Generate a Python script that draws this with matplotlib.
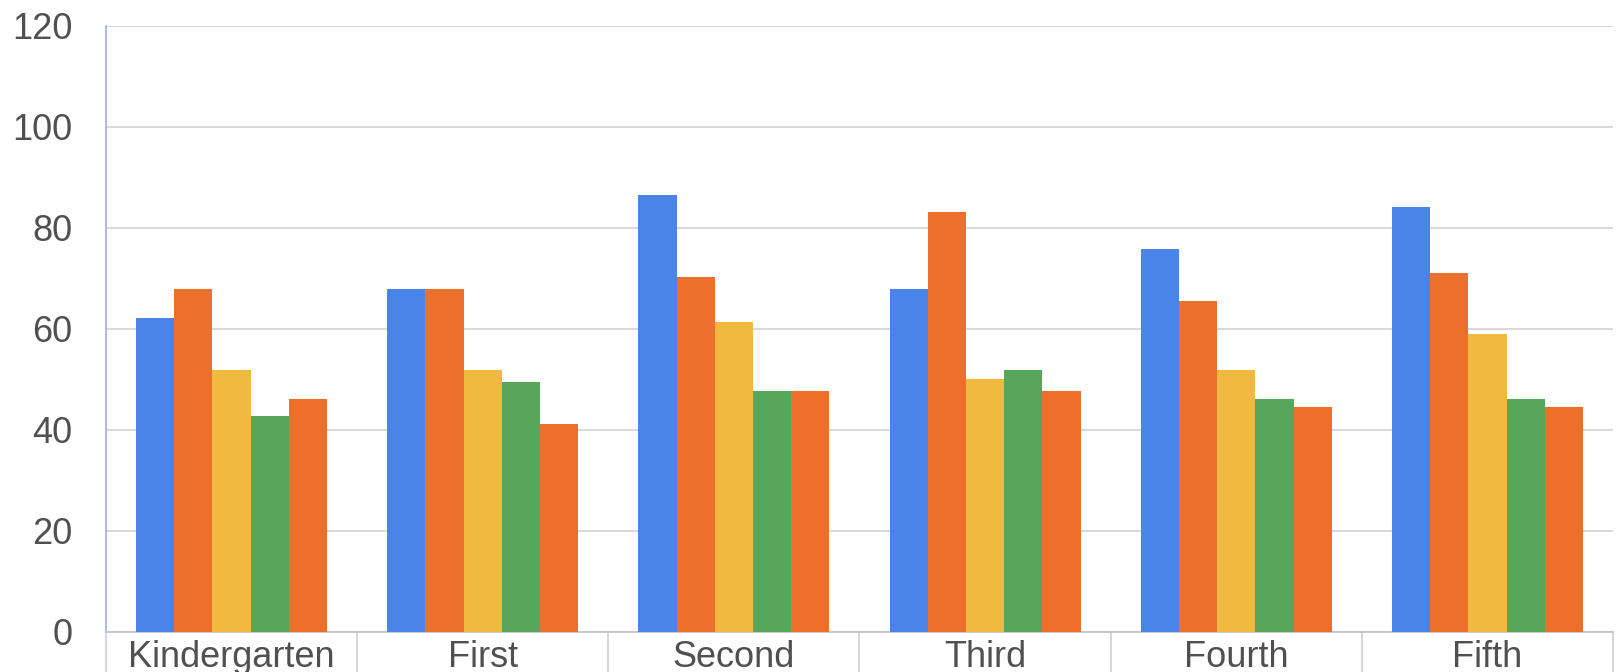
import numpy as np
import matplotlib
matplotlib.use("Agg")
import matplotlib.pyplot as plt

# grade levels along the x axis
grades = ["Kindergarten", "First", "Second", "Third", "Fourth", "Fifth"]

# five series per grade
series1 = [62.1, 67.8, 86.5, 67.8, 75.8, 84.0]
series2 = [67.8, 67.8, 70.2, 83.1, 65.5, 71.1]
series3 = [51.8, 51.8, 61.4, 50.0, 51.8, 59.0]
series4 = [42.8, 49.4, 47.7, 51.8, 46.1, 46.1]
series5 = [46.1, 41.1, 47.7, 47.7, 44.4, 44.4]

yticks = [0, 20, 40, 60, 80, 100, 120]

colors = ["#4a84e8", "#ec6f2b", "#f1b93f", "#57a65a", "#ef6f2a"]
allseries = [series1, series2, series3, series4, series5]

plt.rcParams["font.family"] = ["Liberation Sans", "DejaVu Sans"]

fig = plt.figure(figsize=(16.2, 6.72), dpi=100)
ax = fig.add_axes([0.0654, 0.06, 0.9303, 0.9018])

x = np.arange(len(grades))
w = 0.152
for i, vals in enumerate(allseries):
    ax.bar(x + (i - 2) * w, vals, width=w, color=colors[i], zorder=3, linewidth=0)

ax.set_xlim(-0.5, len(grades) - 0.5)
ax.set_ylim(0, 120)
ax.set_yticks(yticks)
ax.set_yticklabels([str(t) for t in yticks], fontsize=26, color="#505050")
ax.yaxis.grid(True, color="#d6d6d6", linewidth=1.3, zorder=0)
ax.tick_params(axis="y", length=0, pad=24)

# category names, with separators hanging below the baseline
ax.set_xticks(x)
ax.set_xticklabels(grades, fontsize=26, color="#505050")
ax.tick_params(axis="x", which="major", length=0, pad=6)
ax.set_xticks(np.arange(len(grades) + 1) - 0.5, minor=True)
ax.tick_params(axis="x", which="minor", length=45, width=1.2, color="#d0d0d0", direction="out")

ax.spines["top"].set_visible(False)
ax.spines["right"].set_visible(False)
ax.spines["left"].set_color("#a9b4da")
ax.spines["left"].set_linewidth(1.3)
ax.spines["bottom"].set_color("#c4c4c4")
ax.spines["bottom"].set_linewidth(1.3)

fig.savefig("out.png", dpi=100)
